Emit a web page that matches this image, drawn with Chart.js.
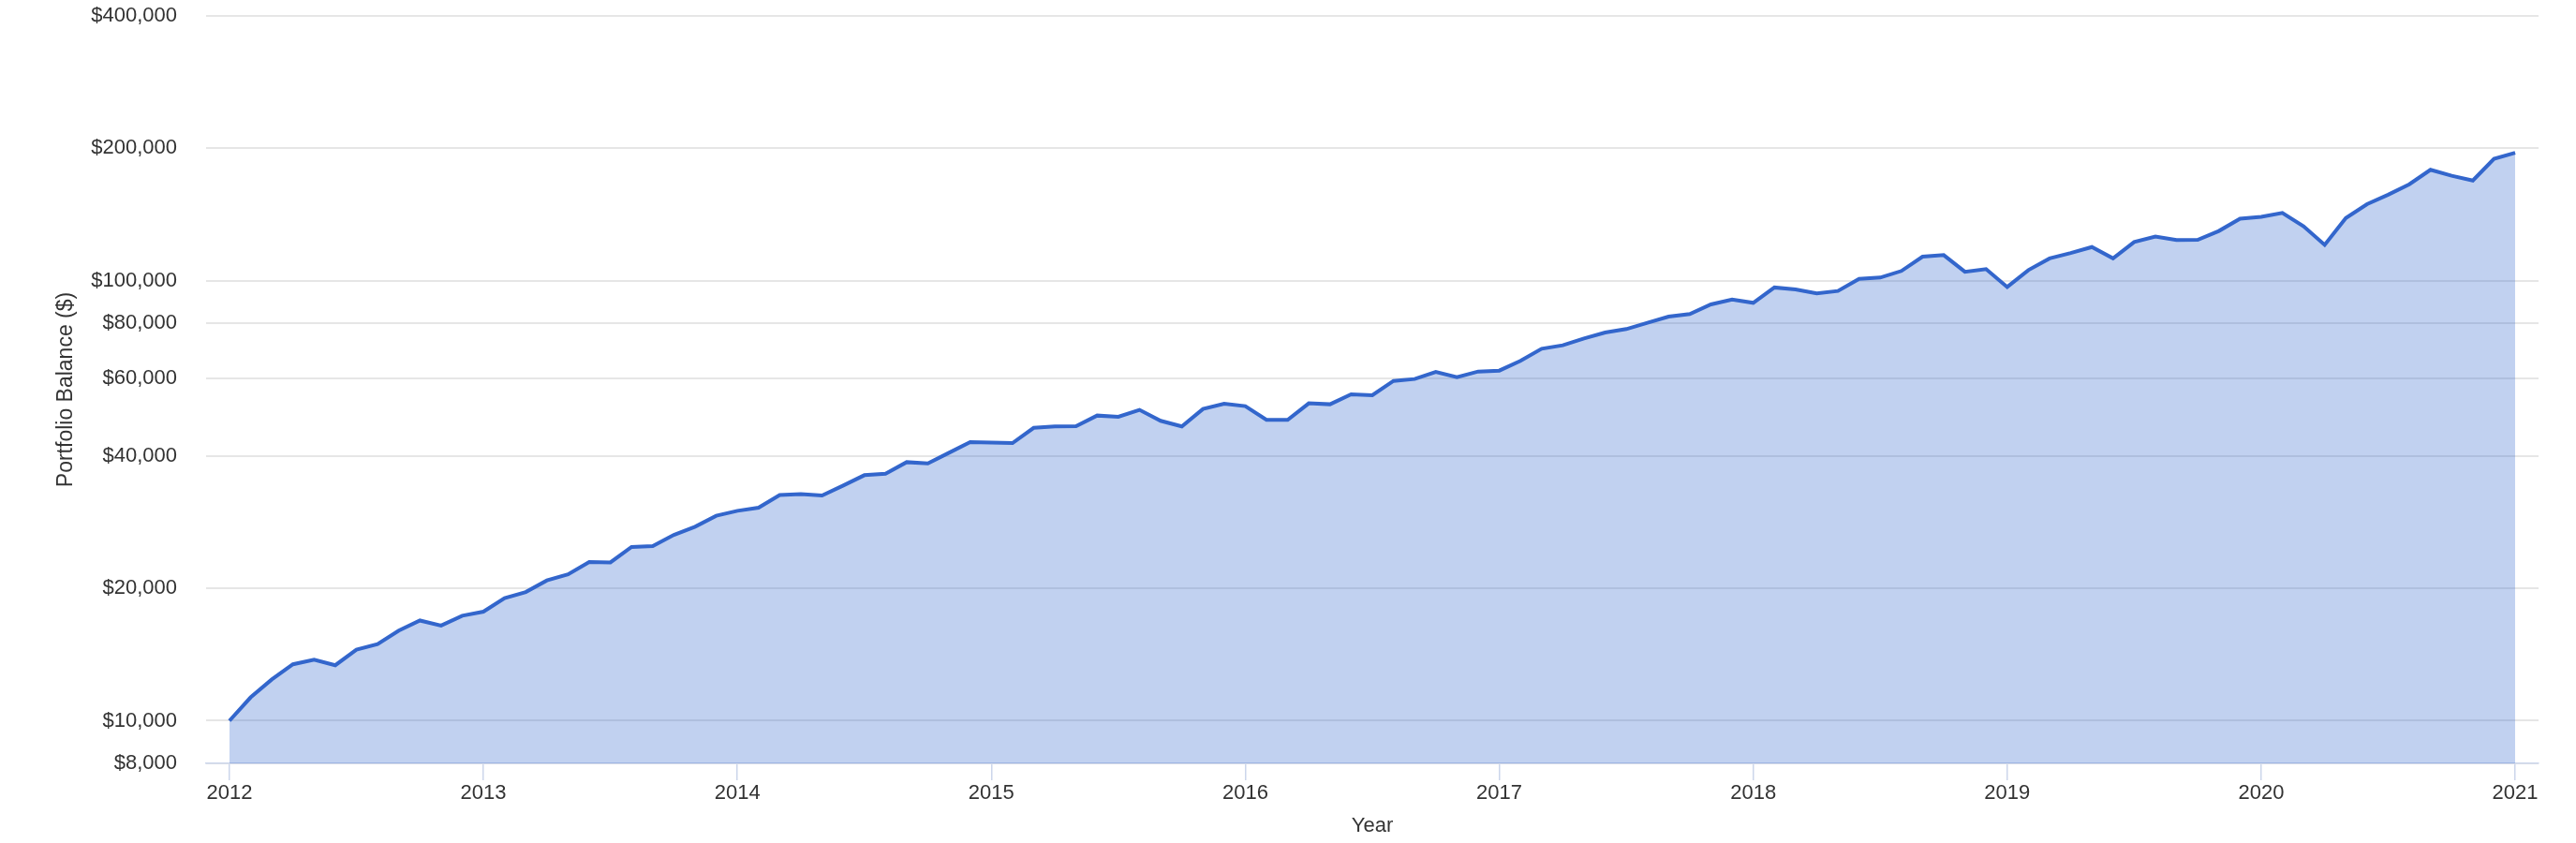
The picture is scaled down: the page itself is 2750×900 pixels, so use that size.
<!DOCTYPE html>
<html>
<head>
<meta charset="utf-8">
<title>Portfolio Balance</title>
<script src="https://cdn.jsdelivr.net/npm/chart.js@4.4.1/dist/chart.umd.min.js"></script>
<style>
  html, body { margin: 0; padding: 0; background: #fff; }
  #wrap { width: 2750px; height: 900px; }
</style>
</head>
<body>
<div id="wrap"><canvas id="balanceChart" width="2750" height="900"></canvas></div>
<script>
// --- DATA ---
// one value per month, Jan 2012 .. Jan 2021
const startYear = 2012;
const yearTicks = [2012, 2013, 2014, 2015, 2016, 2017, 2018, 2019, 2020, 2021];
const balanceTicks = [8000, 10000, 20000, 40000, 60000, 80000, 100000, 200000, 400000];

const balances2012 = [10000, 11300, 12410, 13440, 13770, 13370, 14500, 14930, 16030, 16900, 16460, 17330];
const balances2013 = [17700, 19000, 19610, 20840, 21510, 22940, 22900, 24830, 24950, 26450, 27610, 29240];
const balances2014 = [30000, 30500, 32600, 32760, 32510, 34240, 36150, 36440, 38710, 38460, 40660, 42980];
const balances2015 = [42900, 42760, 46320, 46650, 46720, 49400, 49100, 50900, 48060, 46660, 51130, 52570];
const balances2016 = [51900, 48290, 48290, 52670, 52400, 55200, 54950, 59210, 59810, 62090, 60390, 62200];
const balances2017 = [62500, 65780, 70080, 71350, 73960, 76300, 77680, 80260, 82930, 84010, 88390, 90690];
const balances2018 = [89120, 96560, 95600, 93620, 94800, 101050, 101700, 105280, 113450, 114400, 104850, 106320];
const balances2019 = [96800, 105770, 112430, 115620, 119330, 112430, 122500, 126000, 123740, 123930, 129790, 138430];
const balances2020 = [139800, 142600, 133040, 120700, 138900, 149340, 156900, 165740, 178780, 173250, 169000, 189360];
const balances2021 = [195460];

const balances = [].concat(balances2012, balances2013, balances2014, balances2015, balances2016,
    balances2017, balances2018, balances2019, balances2020, balances2021);

const xLabel = 'Year';
const yLabel = 'Portfolio Balance ($)';

// --- CHART ---
const points = balances.map((v, i) => ({ x: startYear + i / 12, y: v }));
const edgeGap = 0.092; // axis runs a little past first and last year

Chart.defaults.font.family = '"Liberation Sans", Arial, Helvetica, sans-serif';
Chart.defaults.font.size = 22;
Chart.defaults.color = '#333333';

const ctx = document.getElementById('balanceChart').getContext('2d');
new Chart(ctx, {
    type: 'line',
    data: {
        datasets: [{
            label: yLabel,
            data: points,
            borderColor: '#3366cc',
            backgroundColor: 'rgba(51, 102, 204, 0.3)',
            borderWidth: 4,
            fill: 'start',
            tension: 0,
            pointRadius: 0,
            pointHoverRadius: 0
        }]
    },
    options: {
        responsive: false,
        devicePixelRatio: 1,
        animation: false,
        layout: { padding: { top: 17, right: 40, bottom: 0, left: 0 } },
        plugins: {
            legend: { display: false },
            tooltip: { enabled: false }
        },
        scales: {
            x: {
                type: 'linear',
                min: yearTicks[0] - edgeGap,
                max: yearTicks[yearTicks.length - 1] + edgeGap,
                afterBuildTicks: axis => { axis.ticks = yearTicks.map(v => ({ value: v })); },
                afterFit: axis => { axis.height = 85; },
                ticks: {
                    autoSkip: false,
                    maxRotation: 0,
                    padding: 1,
                    callback: value => String(value)
                },
                grid: {
                    drawOnChartArea: false,
                    drawTicks: true,
                    tickLength: 18,
                    color: '#ccd6eb',
                    lineWidth: 1.5
                },
                border: { display: true, color: '#ccd6eb', width: 1.5 },
                title: {
                    display: true,
                    text: xLabel,
                    font: { size: 22 },
                    padding: { top: 0, bottom: 5 }
                }
            },
            y: {
                type: 'logarithmic',
                min: balanceTicks[0],
                max: balanceTicks[balanceTicks.length - 1],
                afterBuildTicks: axis => { axis.ticks = balanceTicks.map(v => ({ value: v })); },
                afterFit: axis => {
                    axis.width = 220;
                    axis.paddingTop = 0;
                    axis.paddingBottom = 0;
                },
                ticks: {
                    autoSkip: false,
                    padding: 31,
                    callback: value => '$' + Number(value).toLocaleString('en-US')
                },
                grid: {
                    drawTicks: false,
                    color: '#e6e6e6',
                    lineWidth: 2
                },
                border: { display: false },
                title: {
                    display: true,
                    text: yLabel,
                    font: { size: 23 },
                    padding: { top: 57, bottom: 0 }
                }
            }
        }
    }
});
</script>
</body>
</html>
